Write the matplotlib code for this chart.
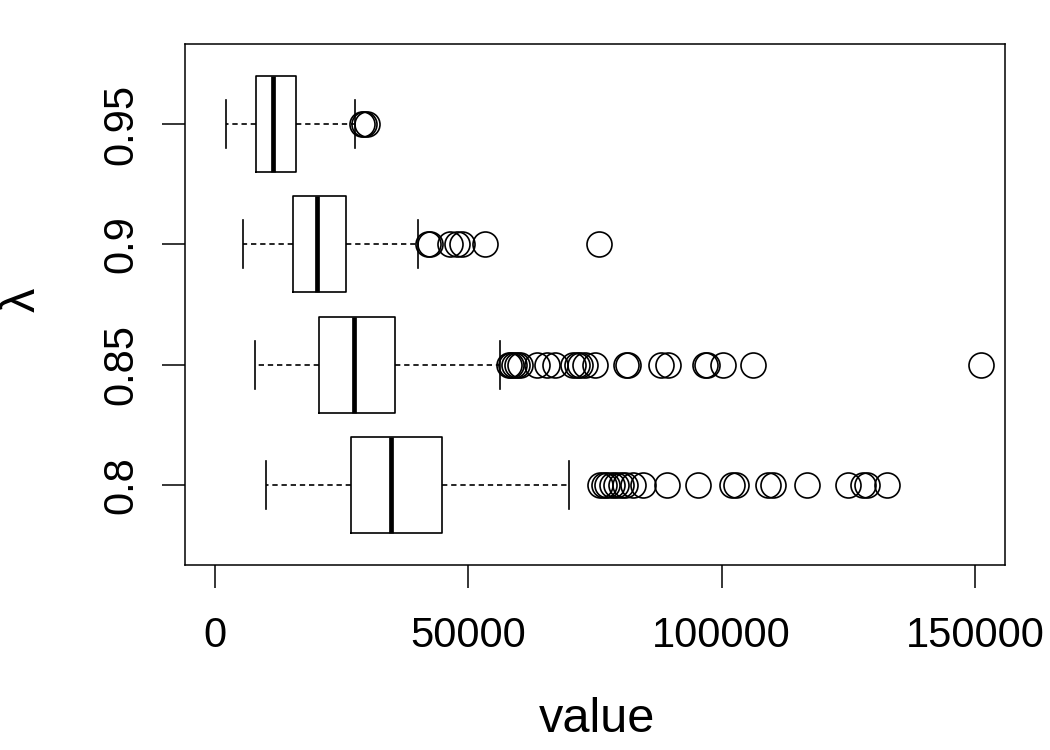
import matplotlib
matplotlib.use("Agg")
import matplotlib.pyplot as plt

plt.rcParams['font.family'] = ['Liberation Sans', 'DejaVu Sans']

# ---- data ----
lambdas = ['0.8', '0.85', '0.9', '0.95']
whislo = [10070, 7840, 5470, 2170]
q1 = [26910, 20590, 15460, 8090]
med = [34800, 27440, 20190, 11510]
q3 = [44870, 35590, 25860, 15930]
whishi = [69820, 56320, 40130, 27640]
fliers_080 = [76000, 76790, 77440, 78310, 79160, 80090, 80930, 82570, 84430,
              89290, 95410, 102000, 102790, 109220, 110210, 116800, 125010,
              127860, 128770, 132600]
fliers_085 = [58040, 58430, 59020, 59610, 60210, 63560, 65540, 67120, 70670,
              71460, 72050, 73040, 75010, 81130, 81530, 88040, 89430, 96730,
              97120, 100280, 106200, 151210]
fliers_090 = [41990, 42440, 46390, 47710, 48700, 53300, 75860]
fliers_095 = [28960, 29470, 29950]
fliers = [fliers_080, fliers_085, fliers_090, fliers_095]
xticks = [0, 50000, 100000, 150000]

stats = []
for i in range(len(lambdas)):
    stats.append(dict(label=lambdas[i], whislo=whislo[i], q1=q1[i], med=med[i],
                      q3=q3[i], whishi=whishi[i], fliers=fliers[i]))

fig = plt.figure(figsize=(10.5, 7.5), dpi=100)
ax = fig.add_axes([185/1050, 1-565/750, 820/1050, 521/750])

lw = 1.2
kw = dict(
    positions=[1, 2, 3, 4], widths=0.8, showfliers=True, patch_artist=False,
    boxprops=dict(color='black', linewidth=lw),
    medianprops=dict(color='black', linewidth=3.4, solid_capstyle='butt'),
    whiskerprops=dict(color='black', linewidth=lw, linestyle=(0, (3.2, 2.3))),
    capprops=dict(color='black', linewidth=lw),
    flierprops=dict(marker='o', markerfacecolor='none', markeredgecolor='black',
                    markersize=18, markeredgewidth=1.2, linestyle='none'),
    capwidths=0.4,
)
try:
    ax.bxp(stats, orientation='horizontal', **kw)
except TypeError:
    ax.bxp(stats, vert=False, **kw)

ax.set_xlim(-5920, 155920)
ax.set_ylim(0.335, 4.665)
ax.set_xticks(xticks)
ax.set_xticklabels([str(t) for t in xticks], fontsize=30)
ax.set_yticks([1, 2, 3, 4])
ax.set_yticklabels(lambdas, fontsize=30, rotation=90, va='center')
ax.tick_params(axis='both', length=16.5, width=1.1, direction='out')
ax.tick_params(axis='x', pad=20)
ax.tick_params(axis='y', pad=15)

for s in ax.spines.values():
    s.set_linewidth(1.1)

fig.text(597/1050, 1-719/750, 'value', fontsize=35, ha='center', va='center')
fig.text(22/1050, 1-300/750, 'λ', fontsize=35, ha='center', va='center', rotation=90)

fig.savefig('out.png', dpi=100)
